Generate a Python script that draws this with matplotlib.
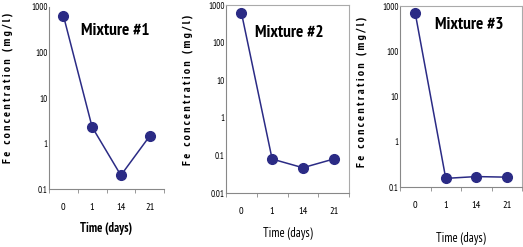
import numpy as np
import matplotlib.pyplot as plt
from matplotlib.ticker import FixedLocator, NullLocator

days = ['0', '1', '14', '21']
mix1 = [650, 2.3, 0.2, 1.45]
mix2 = [630, 0.08, 0.047, 0.08]
mix3 = [690, 0.155, 0.17, 0.165]
titles = ['Mixture #1', 'Mixture #2', 'Mixture #3']
ylims = [(0.1, 1000), (0.01, 1000), (0.1, 1000)]
ytick_labels = [['0.1', '1', '10', '100', '1000'],
                ['0.01', '0.1', '1', '10', '100', '1000'],
                ['0.1', '1', '10', '100', '1000']]

narrow = ['PT Sans Narrow', 'Liberation Sans', 'DejaVu Sans']
col = '#2b2b85'

# axes boxes in pixels: left, top, right, bottom
W, H = 523, 247
boxes = [(49, 7, 164, 189), (226, 5, 349, 193), (400, 6, 522, 187)]
title_pos = [(115, 31), (289, 33), (469, 25)]
xlab_y = [228, 233, 238]
xlab_bold = [True, False, False]
ylab_x = [8, 188, 362]
ylab_y = [88, 90, 92]
ylab = 'F e   c o n c e n t r a t i o n   ( m g / l )'

fig = plt.figure(figsize=(W / 100, H / 100), dpi=100)
for i, vals in enumerate([mix1, mix2, mix3]):
    l, t, r, b = boxes[i]
    ax = fig.add_axes([l / W, 1 - b / H, (r - l) / W, (b - t) / H])
    x = np.arange(len(days))
    ax.plot(x, vals, '-', color=col, lw=1.1, marker='o', ms=7,
            mfc=col, mec=col)
    ax.set_yscale('log')
    ax.set_ylim(*ylims[i])
    ax.set_xlim(-0.5, len(days) - 0.5)
    ticks = [float(s) for s in ytick_labels[i]]
    ax.yaxis.set_major_locator(FixedLocator(ticks))
    ax.yaxis.set_minor_locator(NullLocator())
    ax.set_yticklabels(ytick_labels[i], family=narrow, fontsize=6.5)
    ax.set_xticks(x)
    ax.set_xticklabels(days, family=narrow, fontsize=7.5)
    ax.set_xticks(np.arange(-0.5, len(days)), minor=True)
    ax.tick_params(axis='x', which='major', length=0, pad=10)
    ax.tick_params(axis='x', which='minor', length=3, color='#888888')
    ax.tick_params(axis='y', length=0, pad=1)
    for s in ['left', 'bottom']:
        ax.spines[s].set_color('#888888')
        ax.spines[s].set_linewidth(0.8)
    for s in ['top', 'right']:
        if i == 0:
            ax.spines[s].set_visible(False)
        else:
            ax.spines[s].set_color('#aaaaaa')
            ax.spines[s].set_linewidth(0.8)
    fig.text(title_pos[i][0] / W, 1 - title_pos[i][1] / H, titles[i],
             family=narrow, fontsize=12.5, fontweight='bold',
             ha='center', va='center')
    fig.text((l + r) / 2 / W, 1 - xlab_y[i] / H, 'Time (days)',
             family=narrow, fontsize=9,
             fontweight='bold' if xlab_bold[i] else 'normal',
             ha='center', va='center')
    fig.text(ylab_x[i] / W, 1 - ylab_y[i] / H, ylab,
             family=narrow, fontsize=8.5, fontweight='bold',
             rotation=90, ha='center', va='center')

fig.savefig('out.png', dpi=100)
